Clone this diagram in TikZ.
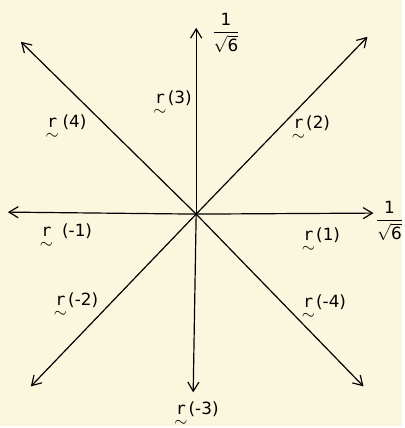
\documentclass[tikz,border=0pt]{standalone}
\usepackage{amsmath}
\usepackage{fontspec}
\setsansfont{DejaVu Sans}
\setmonofont{DejaVu Sans Mono}
\usepackage{tikz}
\usetikzlibrary{arrows.meta}

\definecolor{paper}{RGB}{251,247,222}
\newcommand{\rvec}{\hbox{\ttfamily r}\llap{\raisebox{-1.3ex}{\makebox[0.6em]{$\sim$}}}}
\newcommand{\invsix}{\ensuremath{\dfrac{\mathsf{1}}{\sqrt{\mathsf{6}}}}}

\begin{document}
\begin{tikzpicture}[
    x=0.025cm, y=-0.025cm,
    vec/.style={-{Straight Barb[length=2.3mm,width=2.8mm]}, line width=0.85pt},
    lab/.style={font=\fontsize{12}{14}\selectfont\sffamily, inner sep=1pt}
]
\fill[paper] (0,0) rectangle (404,428);
% origin and tips
\coordinate (o) at (197,215);
\coordinate (p1) at (375,214);
\coordinate (m1) at (8,213);
\coordinate (p3) at (197,28);
\coordinate (m3) at (194,394);
\coordinate (p2) at (369,37);
\coordinate (p4) at (21,42);
\coordinate (m2) at (31,388);
\coordinate (m4) at (365,388);
\foreach \t in {p1,m1,p2,m2,p3,m3,p4,m4}
    \draw[vec] (o) -- (\t);
% labels
\node[lab] (l3) at (174,104) {\rvec\,(3)};
\node[lab] (l4) at (67,128) {\rvec\ (4)};
\node[lab] (l2) at (313,129) {\rvec\,(2)};
\node[lab] (lm1) at (67,237) {\rvec\ \ (-1)};
\node[lab] (l1) at (323,241) {\rvec\,(1)};
\node[lab] (lm2) at (77,306) {\rvec\,(-2)};
\node[lab] (lm4) at (326,308) {\rvec\,(-4)};
\node[lab] (lm3) at (198,416) {\rvec\,(-3)};
\node[lab] (f3) at (227,33) {\invsix};
\node[lab] (f1) at (391,222) {\invsix};
\end{tikzpicture}
\end{document}
